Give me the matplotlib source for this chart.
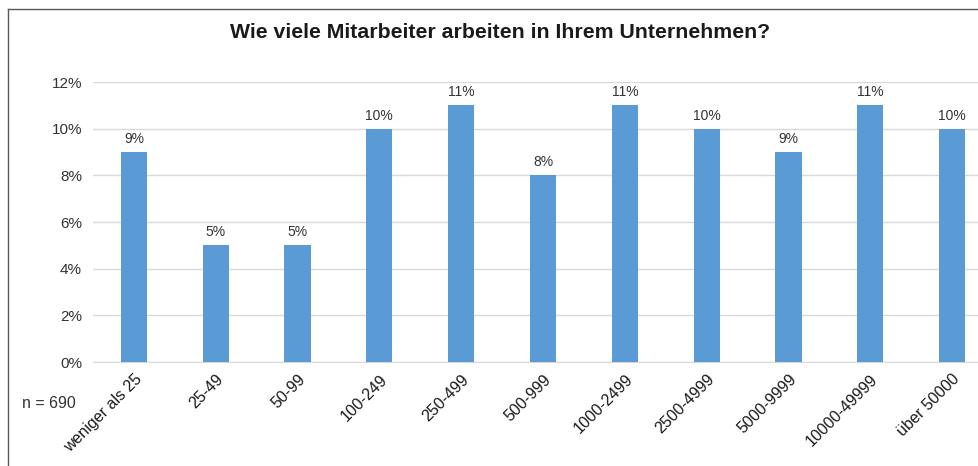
import matplotlib.pyplot as plt
from matplotlib.lines import Line2D

plt.rcParams['font.family'] = ['Liberation Sans', 'DejaVu Sans']

categories = ["weniger als 25", "25-49", "50-99", "100-249", "250-499", "500-999",
              "1000-2499", "2500-4999", "5000-9999", "10000-49999", "über 50000"]
values = [9, 5, 5, 10, 11, 8, 11, 10, 9, 11, 10]
yticks = [0, 2, 4, 6, 8, 10, 12]

fig = plt.figure(figsize=(9.79, 4.66), dpi=100)
ax = fig.add_axes([93 / 979, 104 / 466, 900 / 979, 280 / 466])

x = range(len(categories))
ax.bar(x, values, width=0.32, color="#5B9BD5", zorder=3)
for i, v in zip(x, values):
    ax.text(i, v + 0.25, f"{v}%", ha="center", va="bottom", fontsize=10, color="#333333")

ax.set_xlim(-0.5, len(categories) - 0.5)
ax.set_ylim(0, 12)
ax.set_yticks(yticks)
ax.set_yticklabels([f"{t}%" for t in yticks], fontsize=11, color="#333333")
ax.set_xticks(list(x))
ax.set_xticklabels(categories, rotation=45, ha="right", rotation_mode="anchor",
                   fontsize=11.5, color="#1a1a1a")
ax.tick_params(axis="both", length=0, pad=8)
ax.tick_params(axis="x", pad=7)
ax.grid(axis="y", color="#D9D9D9", linewidth=1, zorder=0)
for s in ["top", "right", "left"]:
    ax.spines[s].set_visible(False)
ax.spines["bottom"].set_color("#D9D9D9")

fig.text(500 / 979, 1 - 33 / 466, "Wie viele Mitarbeiter arbeiten in Ihrem Unternehmen?",
         ha="center", va="center", fontsize=15.3, fontweight="bold", color="#1a1a1a")
fig.text(22 / 979, 1 - 403 / 466, "n = 690", ha="left", va="center", fontsize=11.5, color="#333333")

# chart frame
fig.add_artist(Line2D([8 / 979, 1.0], [1 - 9 / 466, 1 - 9 / 466], color="#595959", linewidth=1))
fig.add_artist(Line2D([8 / 979, 8 / 979], [0, 1 - 9 / 466], color="#595959", linewidth=1))

fig.savefig("out.png", dpi=100)
